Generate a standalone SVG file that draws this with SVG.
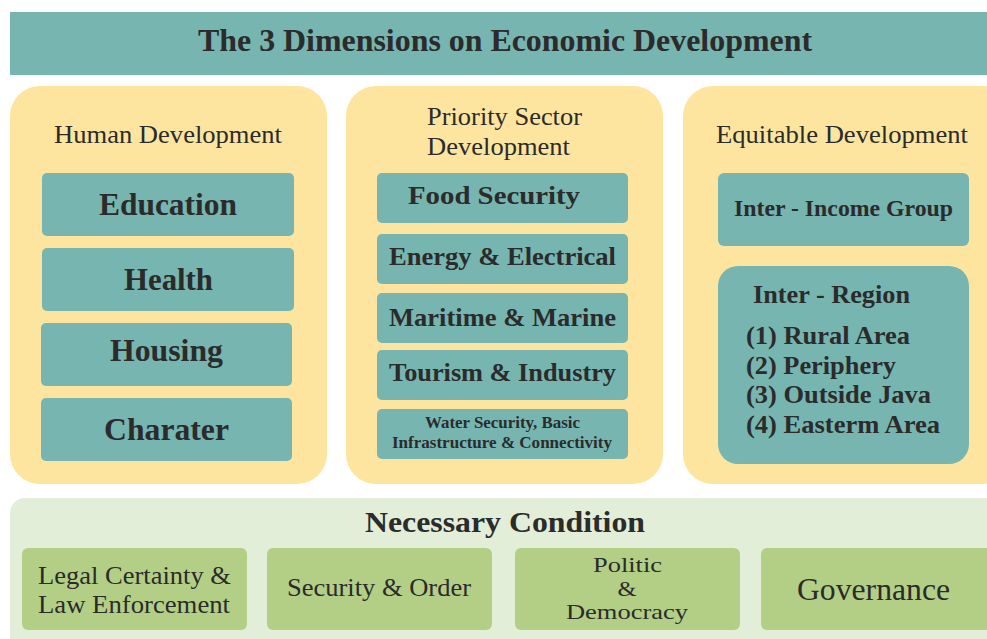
<svg xmlns="http://www.w3.org/2000/svg" width="987" height="639" viewBox="0 0 987 639">
<style>
text{font-family:"Liberation Serif","Times New Roman",serif;fill:#2b2b2b;text-anchor:middle}
.b{font-weight:bold}
.teal{fill:#76b5b0}
.yel{fill:#fde5a0}
.grn{fill:#b3cf86}
.hd{font-size:26px}
.big{font-size:31px;font-weight:bold}
.mid{font-size:26px;font-weight:bold}
.cond{font-size:26px}
.pol{font-size:21px}
.s{text-anchor:start}
</style>
<rect width="987" height="639" fill="#ffffff"/>
<g id="title">
<rect class="teal" x="10" y="12" width="990" height="63"/>
<text class="b" x="505" y="51" font-size="32" textLength="614" lengthAdjust="spacingAndGlyphs">The 3 Dimensions on Economic Development</text>
</g>
<g id="human">
<rect class="yel" x="10" y="86" width="317" height="398" rx="30"/>
<text class="hd" x="168" y="143" textLength="228" lengthAdjust="spacingAndGlyphs">Human Development</text>
</g>
<g id="education"><rect class="teal" x="42" y="173" width="252" height="63" rx="5"/><text class="big" x="168" y="215" textLength="138" lengthAdjust="spacingAndGlyphs">Education</text></g>
<g id="health"><rect class="teal" x="42" y="248" width="252" height="63" rx="5"/><text class="big" x="168.5" y="290" textLength="89" lengthAdjust="spacingAndGlyphs">Health</text></g>
<g id="housing"><rect class="teal" x="41" y="323" width="251" height="63" rx="5"/><text class="big" x="166.5" y="361" textLength="113" lengthAdjust="spacingAndGlyphs">Housing</text></g>
<g id="charater"><rect class="teal" x="41" y="398" width="251" height="63" rx="5"/><text class="big" x="166.5" y="440" textLength="125" lengthAdjust="spacingAndGlyphs">Charater</text></g>

<g id="priority">
<rect class="yel" x="346" y="86" width="317" height="398" rx="30"/>
<text class="hd s" x="427" y="125" textLength="155" lengthAdjust="spacingAndGlyphs">Priority Sector</text>
<text class="hd s" x="427" y="155" textLength="143" lengthAdjust="spacingAndGlyphs">Development</text>
</g>
<g id="food"><rect class="teal" x="377" y="173" width="251" height="50" rx="5"/><text class="mid" x="494" y="204" font-size="28" textLength="172" lengthAdjust="spacingAndGlyphs">Food Security</text></g>
<g id="energy"><rect class="teal" x="377" y="234" width="251" height="50" rx="5"/><text class="mid" x="502.5" y="265" textLength="227" lengthAdjust="spacingAndGlyphs">Energy &amp; Electrical</text></g>
<g id="maritime"><rect class="teal" x="377" y="293" width="251" height="50" rx="5"/><text class="mid" x="502.5" y="326" textLength="227" lengthAdjust="spacingAndGlyphs">Maritime &amp; Marine</text></g>
<g id="tourism"><rect class="teal" x="377" y="350" width="251" height="50" rx="5"/><text class="mid" x="502.5" y="381" textLength="227" lengthAdjust="spacingAndGlyphs">Tourism &amp; Industry</text></g>
<g id="water"><rect class="teal" x="377" y="409" width="251" height="50" rx="5"/>
<text class="b" x="502.5" y="428" font-size="16" textLength="155" lengthAdjust="spacingAndGlyphs">Water Security, Basic</text>
<text class="b" x="502" y="448" font-size="16" textLength="220" lengthAdjust="spacingAndGlyphs">Infrastructure &amp; Connectivity</text></g>

<g id="equitable">
<rect class="yel" x="683" y="86" width="330" height="398" rx="30"/>
<text class="hd" x="842" y="143" textLength="252" lengthAdjust="spacingAndGlyphs">Equitable Development</text>
</g>
<g id="income"><rect class="teal" x="718" y="173" width="251" height="73" rx="6"/><text class="b" x="843.5" y="216" font-size="23" textLength="219" lengthAdjust="spacingAndGlyphs">Inter - Income Group</text></g>
<g id="region"><rect class="teal" x="718" y="266" width="251" height="198" rx="20"/>
<text class="b s" x="753" y="303" font-size="25" textLength="157" lengthAdjust="spacingAndGlyphs">Inter - Region</text>
<text class="b s" x="746" y="344" font-size="25" textLength="164" lengthAdjust="spacingAndGlyphs">(1) Rural Area</text>
<text class="b s" x="746" y="374" font-size="25" textLength="150" lengthAdjust="spacingAndGlyphs">(2) Periphery</text>
<text class="b s" x="746" y="403" font-size="25" textLength="185" lengthAdjust="spacingAndGlyphs">(3) Outside Java</text>
<text class="b s" x="746" y="433" font-size="25" textLength="194" lengthAdjust="spacingAndGlyphs">(4) Easterm Area</text>
</g>

<g id="necessary">
<rect x="10" y="498" width="1000" height="160" rx="15" fill="#e2eed7"/>
<text class="b" x="505" y="532" font-size="30" textLength="280" lengthAdjust="spacingAndGlyphs">Necessary Condition</text>
</g>
<g id="legal"><rect class="grn" x="22" y="548" width="225" height="82" rx="6"/>
<text class="cond" x="134.5" y="584" textLength="193" lengthAdjust="spacingAndGlyphs">Legal Certainty &amp;</text>
<text class="cond" x="134" y="613" textLength="192" lengthAdjust="spacingAndGlyphs">Law Enforcement</text></g>
<g id="security"><rect class="grn" x="267" y="548" width="225" height="82" rx="6"/>
<text class="cond" x="379" y="596" textLength="184" lengthAdjust="spacingAndGlyphs">Security &amp; Order</text></g>
<g id="politic"><rect class="grn" x="515" y="548" width="225" height="82" rx="6"/>
<text class="pol" x="627.5" y="572" textLength="69" lengthAdjust="spacingAndGlyphs">Politic</text>
<text class="pol" x="627" y="595.5" textLength="19" lengthAdjust="spacingAndGlyphs">&amp;</text>
<text class="pol" x="627" y="619" textLength="122" lengthAdjust="spacingAndGlyphs">Democracy</text></g>
<g id="governance"><rect class="grn" x="761" y="548" width="240" height="82" rx="6"/>
<text x="873.5" y="600" font-size="31" textLength="153" lengthAdjust="spacingAndGlyphs">Governance</text></g>
<g id="connectors"/>
</svg>
